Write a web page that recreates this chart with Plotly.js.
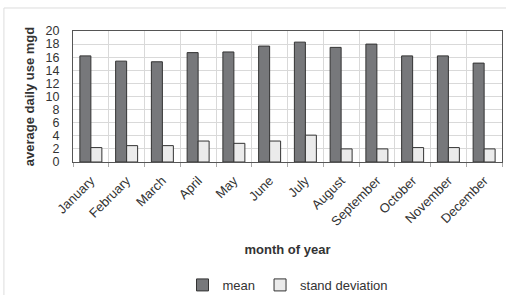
<!DOCTYPE html>
<html>
<head>
<meta charset="utf-8">
<script src="https://cdn.plot.ly/plotly-3.0.1.min.js"></script>
<style>
html,body{margin:0;padding:0;background:#fff;}
#chart{width:506px;height:295px;}
</style>
</head>
<body>
<div id="chart"></div>
<script>
const months = ["January","February","March","April","May","June","July","August","September","October","November","December"];
const meanUse = [16.2, 15.4, 15.3, 16.7, 16.8, 17.7, 18.3, 17.5, 18.0, 16.2, 16.2, 15.1];
const stdDev = [2.2, 2.5, 2.5, 3.2, 2.85, 3.2, 4.1, 2.0, 2.0, 2.2, 2.2, 2.0];
const yTicks = [0,2,4,6,8,10,12,14,16,18,20];

const traces = [
  {type:"bar", name:"mean", x:months, y:meanUse,
   marker:{color:"#77787b", line:{color:"#333333", width:1}}},
  {type:"bar", name:"stand deviation", x:months, y:stdDev,
   marker:{color:"#ebebeb", line:{color:"#333333", width:1}}}
];

const layout = {
  width:506, height:295,
  margin:{l:73, r:4, t:31, b:133, autoexpand:false},
  paper_bgcolor:"#ffffff", plot_bgcolor:"#ffffff",
  font:{family:"Liberation Sans, Arial, sans-serif", color:"#333333", size:13},
  barmode:"group", bargap:0.385, bargroupgap:0,
  showlegend:true,
  legend:{orientation:"h", x:0.5, xanchor:"center", xref:"paper",
          yref:"container", y:0.034, yanchor:"middle",
          font:{size:13, color:"#333"}, itemwidth:30, tracegroupgap:0},
  xaxis:{type:"category", tickangle:-45, tickfont:{size:13, color:"#333"}, automargin:false,
         tickson:"boundaries", ticks:"outside", ticklen:4, tickcolor:"#aaaaaa",
         ticklabelstandoff:5,
         showgrid:true, gridcolor:"#d9d9d9", gridwidth:1,
         showline:true, linecolor:"#555555", linewidth:1, mirror:true,
         title:{text:"<b>month of year</b>", font:{size:13, color:"#333"}, standoff:17}},
  yaxis:{range:[0,20], tickvals:yTicks, ticktext:yTicks.map(String), automargin:false,
         tickfont:{size:12.5, color:"#333"}, ticks:"", ticklabelstandoff:10,
         showgrid:true, gridcolor:"#d9d9d9", gridwidth:1, zeroline:false,
         showline:true, linecolor:"#555555", linewidth:1, mirror:true,
         title:{text:"<b>average daily use mgd</b>", font:{size:13, color:"#333"}, standoff:8}},
  shapes:[
    {type:"line", xref:"paper", yref:"paper", x0:-0.161, x1:1.02, y0:1.1756, y1:1.1756,
     line:{color:"#dddddd", width:1}},
    {type:"line", xref:"paper", yref:"paper", x0:-0.161, x1:-0.161, y0:1.1756, y1:-1.05,
     line:{color:"#dddddd", width:1}}
  ]
};

Plotly.newPlot("chart", traces, layout, {displayModeBar:false, staticPlot:true});
</script>
</body>
</html>
